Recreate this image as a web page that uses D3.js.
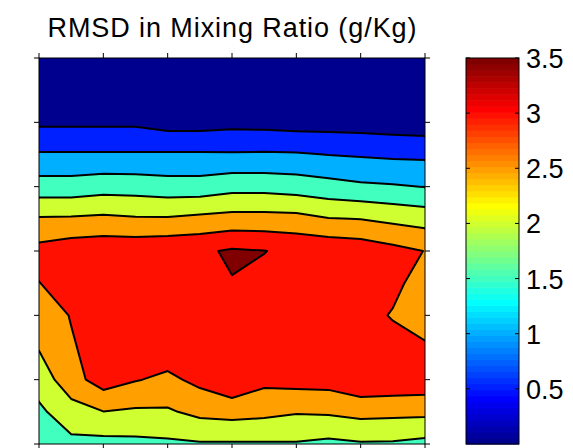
<!DOCTYPE html>
<html><head><meta charset="utf-8">
<script src="https://cdn.jsdelivr.net/npm/d3@7"></script>
<style>body{margin:0;background:#fff}svg{display:block}</style>
</head><body><svg id="c" width="573" height="448"></svg>
<script>
const title = "RMSD in Mixing Ratio (g/Kg)";
const levels = [0.5, 1, 1.5, 2, 2.5, 3, 3.5];
const cbarTicks = [0.5, 1, 1.5, 2, 2.5, 3, 3.5];
const cbarTickLabels = ["0.5", "1", "1.5", "2", "2.5", "3", "3.5"];
const cRange = [0, 3.5];
const axisTicks = [0, 1, 2, 3, 4, 5, 6];

// grid of values, rows from top to bottom, 13 columns left to right
const row00 = [0.08,0.08,0.08,0.08,0.07,0.07,0.07,0.07,0.07,0.07,0.06,0.05,0.05];
const row01 = [0.20,0.20,0.20,0.20,0.17,0.17,0.18,0.18,0.17,0.17,0.16,0.15,0.13];
const row02 = [0.41,0.41,0.41,0.41,0.29,0.29,0.35,0.33,0.29,0.29,0.28,0.24,0.20];
const row03 = [1.05,1.05,1.05,1.05,1.06,1.06,1.05,1.06,1.05,0.99,0.95,0.91,0.90];
const row04 = [1.72,1.72,1.80,1.78,1.72,1.72,1.83,1.83,1.77,1.68,1.59,1.55,1.49];
const row05 = [2.55,2.56,2.60,2.55,2.55,2.62,2.68,2.68,2.66,2.52,2.49,2.38,2.30];
const row06 = [3.16,3.30,3.35,3.35,3.39,3.42,3.56,3.51,3.40,3.37,3.30,3.15,2.99];
const row07 = [2.99,3.20,3.30,3.30,3.30,3.30,3.48,3.40,3.30,3.30,3.25,3.14,2.75];
const row08 = [2.78,3.02,3.22,3.25,3.30,3.25,3.35,3.30,3.25,3.25,3.20,2.96,2.85];
const row09 = [2.53,2.96,3.18,3.15,3.30,3.20,3.35,3.30,3.25,3.30,3.30,3.20,3.04];
const row10 = [2.22,2.80,3.24,3.03,2.89,3.13,3.41,3.13,3.19,3.20,3.40,3.37,3.34];
const row11 = [1.90,2.30,2.49,2.43,2.44,2.63,2.69,2.63,2.54,2.57,2.66,2.63,2.62];
const row12 = [1.75,1.87,1.84,1.87,1.91,1.95,1.95,1.95,1.96,1.88,1.95,1.94,1.86];
const rows = [row00,row01,row02,row03,row04,row05,row06,row07,row08,row09,row10,row11,row12];

const nx = rows[0].length, ny = rows.length;
const values = rows.flat();

// MATLAB jet colormap
function jet(m) {
  const n = Math.ceil(m / 4), u = [];
  for (let i = 1; i <= n; i++) u.push(i / n);
  for (let i = 1; i < n; i++) u.push(1);
  for (let i = n; i >= 1; i--) u.push(i / n);
  const off = Math.ceil(n / 2) - (m % 4 === 1 ? 1 : 0);
  const cm = Array.from({length: m}, () => [0, 0, 0]);
  u.forEach((v, k) => {
    const g = off + k + 1, r = g + n, b = g - n;
    if (g >= 1 && g <= m) cm[g - 1][1] = v;
    if (r >= 1 && r <= m) cm[r - 1][0] = v;
    if (b >= 1 && b <= m) cm[b - 1][2] = v;
  });
  return cm.map(c => d3.rgb(c[0] * 255, c[1] * 255, c[2] * 255).toString());
}
const cmap = jet(64);
const colorOf = v => cmap[Math.max(0, Math.min(63, Math.floor((v - cRange[0]) / (cRange[1] - cRange[0]) * 64)))];

const svg = d3.select("#c");
const L = 39, R = 425, T = 58, B = 444;
const gx = d3.scaleLinear().domain([0.5, nx - 0.5]).range([L, R]);
const gy = d3.scaleLinear().domain([0.5, ny - 0.5]).range([T, B]);
const tx = d3.scaleLinear().domain([0, 6]).range([L, R]);
const ty = d3.scaleLinear().domain([0, 6]).range([T, B]);

svg.append("defs").append("clipPath").attr("id", "clip")
  .append("rect").attr("x", L).attr("y", T).attr("width", R - L).attr("height", B - T);

const proj = d3.geoTransform({ point(x, y) { this.stream.point(gx(x), gy(y)); } });
const path = d3.geoPath(proj);
const contours = d3.contours().size([nx, ny]).thresholds(levels)(values);

const plot = svg.append("g").attr("clip-path", "url(#clip)");
plot.append("rect").attr("x", L).attr("y", T).attr("width", R - L).attr("height", B - T)
  .attr("fill", colorOf(cRange[0]));
plot.selectAll("path.fill").data(contours).join("path").attr("class", "fill")
  .attr("d", path).attr("fill", d => colorOf(d.value)).attr("stroke", "none");
plot.selectAll("path.line").data(contours).join("path").attr("class", "line")
  .attr("d", path).attr("fill", "none").attr("stroke", "#000").attr("stroke-width", 2)
  .attr("stroke-linejoin", "round");

// frame and ticks (outward)
const ax = svg.append("g").attr("stroke", "#000").attr("stroke-width", 1).attr("fill", "none");
ax.append("rect").attr("x", L).attr("y", T).attr("width", R - L).attr("height", B - T);
const tl = 5;
axisTicks.forEach(t => {
  ax.append("line").attr("x1", tx(t)).attr("x2", tx(t)).attr("y1", T).attr("y2", T - tl);
  ax.append("line").attr("x1", tx(t)).attr("x2", tx(t)).attr("y1", B).attr("y2", B + tl);
  ax.append("line").attr("y1", ty(t)).attr("y2", ty(t)).attr("x1", L).attr("x2", L - tl);
  ax.append("line").attr("y1", ty(t)).attr("y2", ty(t)).attr("x1", R).attr("x2", R + tl);
});

// title
svg.append("text").attr("x", (L + R) / 2).attr("y", 37).attr("text-anchor", "middle")
  .attr("font-family", "'Liberation Sans', Arial, Helvetica, sans-serif").attr("font-size", 27)
  .attr("textLength", 369).attr("lengthAdjust", "spacing").attr("fill", "#000").text(title);

// colorbar
const CL = 466, CR = 519;
const cs = d3.scaleLinear().domain(cRange).range([B, T]);
const steps = d3.range(64);
const cb = svg.append("g");
cb.selectAll("rect").data(steps).join("rect")
  .attr("x", CL).attr("width", CR - CL)
  .attr("y", k => cs(cRange[0] + (k + 1) * (cRange[1] - cRange[0]) / 64))
  .attr("height", k => cs(cRange[0] + k * (cRange[1] - cRange[0]) / 64) - cs(cRange[0] + (k + 1) * (cRange[1] - cRange[0]) / 64) + 0.6)
  .attr("fill", k => cmap[k]);
const cax = svg.append("g").attr("stroke", "#000").attr("stroke-width", 1).attr("fill", "none");
cax.append("rect").attr("x", CL).attr("y", T).attr("width", CR - CL).attr("height", B - T);
cbarTicks.forEach(v => {
  cax.append("line").attr("x1", CL).attr("x2", CL + 4).attr("y1", cs(v)).attr("y2", cs(v));
  cax.append("line").attr("x1", CR).attr("x2", CR - 4).attr("y1", cs(v)).attr("y2", cs(v));
});
svg.append("g").selectAll("text").data(cbarTicks).join("text")
  .attr("x", 526).attr("y", v => cs(v) + 1).attr("dominant-baseline", "central")
  .attr("font-family", "'Liberation Sans', Arial, Helvetica, sans-serif").attr("font-size", 27)
  .attr("fill", "#000").text((v, i) => cbarTickLabels[i]);
</script></body></html>
